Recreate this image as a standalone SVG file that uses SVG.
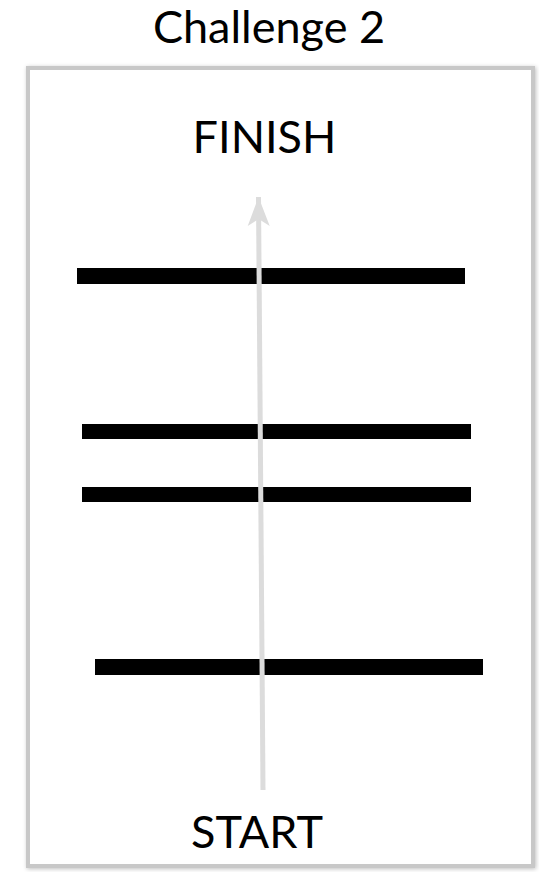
<svg xmlns="http://www.w3.org/2000/svg" width="539" height="872" viewBox="0 0 539 872">
  <style>
    .label { font-family: "Lato", "Open Sans", "Liberation Sans", sans-serif; font-size: 45px; fill: #000; text-anchor: middle; }
    .bar { fill: #000; }
    .frame { fill: #fff; stroke: #c8c8c8; stroke-width: 4; }
    .path { stroke: #dcdcdc; stroke-width: 5; fill: none; }
  </style>
  <defs>
    <filter id="soft" x="-5%" y="-5%" width="110%" height="110%">
      <feGaussianBlur in="SourceAlpha" stdDeviation="2"/>
      <feOffset dx="1" dy="1" result="b"/>
      <feFlood flood-color="#000" flood-opacity="0.25"/>
      <feComposite in2="b" operator="in"/>
      <feMerge><feMergeNode/><feMergeNode in="SourceGraphic"/></feMerge>
    </filter>
    <marker id="head" markerUnits="userSpaceOnUse" markerWidth="32" markerHeight="24" refX="30" refY="12" orient="auto" viewBox="0 0 32 24">
      <path d="M30 12 L1 1 L8 12 L1 23 Z" fill="#dcdcdc"/>
    </marker>
  </defs>
  <rect width="539" height="872" fill="#fff"/>
  <g id="title"><text class="label" x="269" y="43">Challenge 2</text></g>
  <g id="frame"><rect class="frame" x="28" y="68" width="505" height="798" filter="url(#soft)"/></g>
  <g id="barriers">
    <rect id="bar1" class="bar" x="77" y="268" width="388" height="16"/>
    <rect id="bar2" class="bar" x="82" y="424" width="389" height="15"/>
    <rect id="bar3" class="bar" x="82" y="487" width="389" height="15"/>
    <rect id="bar4" class="bar" x="95" y="659" width="388" height="16"/>
  </g>
  <g id="connectors">
    <path class="path" d="M263 790 L258.5 197" marker-end="url(#head)"/>
  </g>
  <g id="finish"><text class="label" x="264.5" y="153">FINISH</text></g>
  <g id="start"><text class="label" x="257" y="848">START</text></g>
</svg>
